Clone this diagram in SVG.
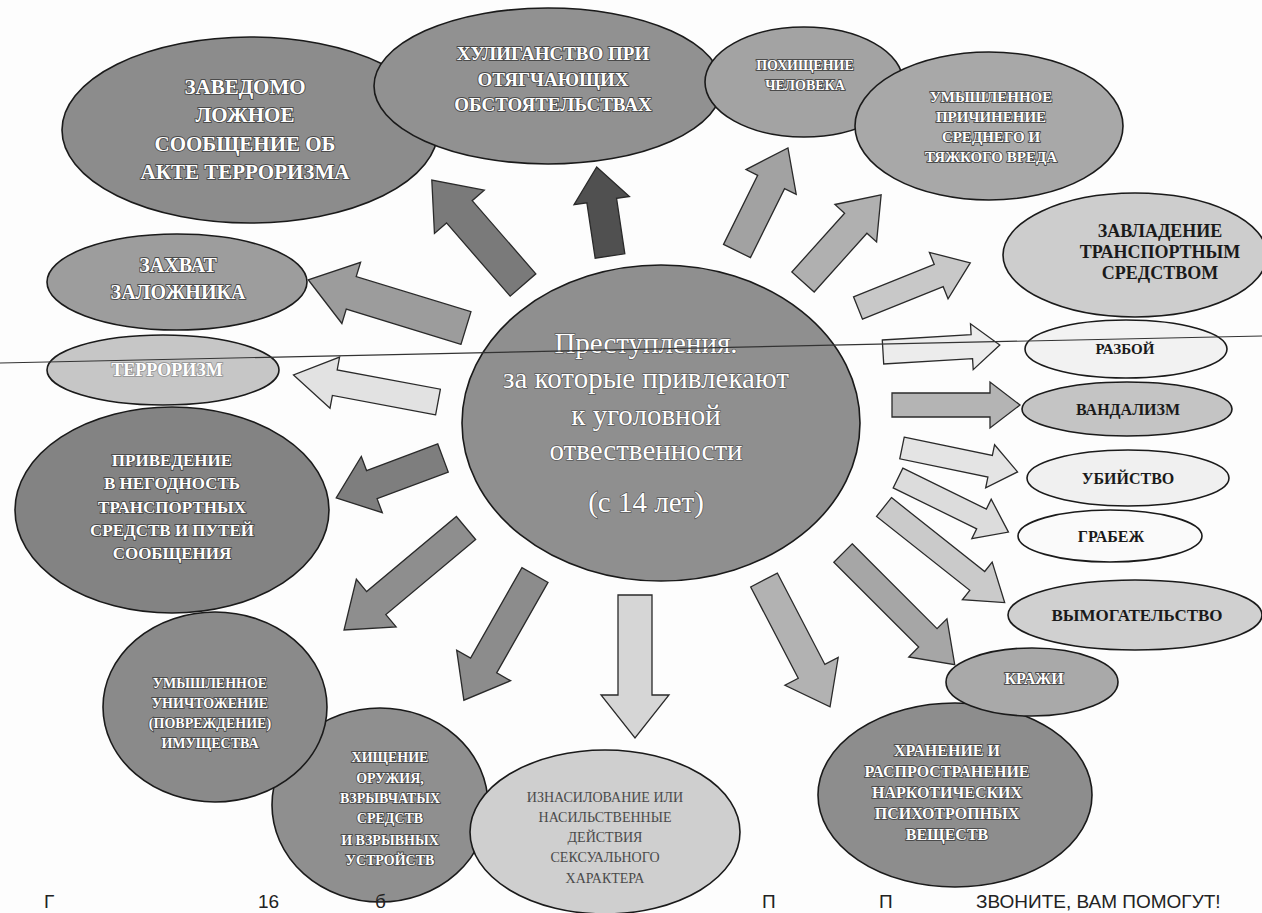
<svg xmlns="http://www.w3.org/2000/svg" width="1262" height="913" viewBox="0 0 1262 913">
<style>
.el{stroke:#1a1a1a;stroke-width:1.6}
.ar{stroke:#2a2a2a;stroke-width:1.3;stroke-linejoin:miter}
.wt{font-family:"Liberation Serif","Noto Serif",serif;font-weight:bold;fill:#fff;stroke:#4a4a4a;stroke-width:1.8;paint-order:stroke;text-anchor:middle}
.dt{font-family:"Liberation Serif",serif;font-weight:bold;fill:#1a1a1a;text-anchor:middle}
.gt{font-family:"Liberation Serif",serif;fill:#4a4a4a;text-anchor:middle}
.ct{font-family:"Liberation Serif",serif;fill:#fff;stroke:#5a5a5a;stroke-width:1.4;paint-order:stroke;text-anchor:middle;font-size:29px}
.bt{font-family:"Liberation Sans",Arial,sans-serif;font-size:19px;fill:#222}
</style>
<rect width="1262" height="913" fill="#fdfdfd"/>
<g id="connectors">
<polygon class="ar" fill="#7a7a7a" transform="translate(523,285) rotate(229)" points="0,-17 97,-17 97,-33 139,0 97,33 97,17 0,17"/>
<polygon class="ar" fill="#505050" transform="translate(610,256) rotate(261.5)" points="0,-15 56,-15 56,-28 90,0 56,28 56,15 0,15"/>
<polygon class="ar" fill="#a2a2a2" transform="translate(737,251) rotate(-63.7)" points="0,-15 77,-15 77,-28 115,0 77,28 77,15 0,15"/>
<polygon class="ar" fill="#b0b0b0" transform="translate(803,282) rotate(-48.1)" points="0,-15 79,-15 79,-28 117,0 79,28 79,15 0,15"/>
<polygon class="ar" fill="#c8c8c8" transform="translate(858,308) rotate(-21.9)" points="0,-12 87,-12 87,-25 121,0 87,25 87,12 0,12"/>
<polygon class="ar" fill="#ececec" transform="translate(883,352) rotate(-3.4)" points="0,-12 89,-12 89,-23 117,0 89,23 89,12 0,12"/>
<polygon class="ar" fill="#b4b4b4" transform="translate(892,405)" points="0,-12 98,-12 98,-23 128,0 98,23 98,12 0,12"/>
<polygon class="ar" fill="#e4e4e4" transform="translate(902,448) rotate(11.7)" points="0,-11 90,-11 90,-22 118,0 90,22 90,11 0,11"/>
<polygon class="ar" fill="#dcdcdc" transform="translate(898,478) rotate(26.1)" points="0,-11 93,-11 93,-22 123,0 93,22 93,11 0,11"/>
<polygon class="ar" fill="#cacaca" transform="translate(884,507) rotate(38.4)" points="0,-12 119,-12 119,-24 154,0 119,24 119,12 0,12"/>
<polygon class="ar" fill="#a6a6a6" transform="translate(843,553) rotate(45)" points="0,-13 120,-13 120,-27 158,0 120,27 120,13 0,13"/>
<polygon class="ar" fill="#b2b2b2" transform="translate(764,580) rotate(62.5)" points="0,-15 103,-15 103,-30 143,0 103,30 103,15 0,15"/>
<polygon class="ar" fill="#d6d6d6" transform="translate(635,595) rotate(90)" points="0,-17 100,-17 100,-34 143,0 100,34 100,17 0,17"/>
<polygon class="ar" fill="#8c8c8c" transform="translate(535,575) rotate(119.6)" points="0,-15 104,-15 104,-31 144,0 104,31 104,15 0,15"/>
<polygon class="ar" fill="#8e8e8e" transform="translate(466,528) rotate(140.1)" points="0,-15 117,-15 117,-31 159,0 117,31 117,15 0,15"/>
<polygon class="ar" fill="#7e7e7e" transform="translate(443,458) rotate(159.5)" points="0,-15 76,-15 76,-30 114,0 76,30 76,15 0,15"/>
<polygon class="ar" fill="#e2e2e2" transform="translate(438,402) rotate(190.6)" points="0,-13 105,-13 105,-26 147,0 105,26 105,13 0,13"/>
<polygon class="ar" fill="#9c9c9c" transform="translate(466,328) rotate(197)" points="0,-17 120,-17 120,-32 165,0 120,32 120,17 0,17"/>
</g>
<g id="n-zavedomo"><ellipse class="el" cx="250" cy="130" rx="188" ry="93" fill="#8c8c8c"/>
<text class="wt" font-size="21"><tspan x="245" y="94">ЗАВЕДОМО</tspan><tspan x="245" y="122">ЛОЖНОЕ</tspan><tspan x="245" y="151">СООБЩЕНИЕ ОБ</tspan><tspan x="245" y="179">АКТЕ ТЕРРОРИЗМА</tspan></text></g>
<g id="n-huligan"><ellipse class="el" cx="548" cy="86" rx="174" ry="78" fill="#919191"/>
<text class="wt" font-size="19"><tspan x="553" y="60">ХУЛИГАНСТВО ПРИ</tspan><tspan x="553" y="86">ОТЯГЧАЮЩИХ</tspan><tspan x="553" y="111">ОБСТОЯТЕЛЬСТВАХ</tspan></text></g>
<g id="n-pohish"><ellipse class="el" cx="804" cy="82" rx="99" ry="55" fill="#a3a3a3"/>
<text class="wt" font-size="14"><tspan x="805" y="70">ПОХИЩЕНИЕ</tspan><tspan x="805" y="90">ЧЕЛОВЕКА</tspan></text></g>
<g id="n-prichin"><ellipse class="el" cx="989" cy="126" rx="134" ry="74" fill="#a8a8a8"/>
<text class="wt" font-size="15"><tspan x="991" y="102">УМЫШЛЕННОЕ</tspan><tspan x="991" y="122">ПРИЧИНЕНИЕ</tspan><tspan x="991" y="142">СРЕДНЕГО И</tspan><tspan x="991" y="162">ТЯЖКОГО ВРЕДА</tspan></text></g>
<g id="n-zavlad"><ellipse class="el" cx="1135" cy="255" rx="132" ry="62" fill="#cdcdcd"/>
<text class="dt" font-size="18"><tspan x="1160" y="237">ЗАВЛАДЕНИЕ</tspan><tspan x="1160" y="258">ТРАНСПОРТНЫМ</tspan><tspan x="1160" y="279">СРЕДСТВОМ</tspan></text></g>
<g id="n-razboy"><ellipse class="el" cx="1126" cy="349" rx="101" ry="29" fill="#f2f2f2"/>
<text class="dt" font-size="15" x="1125" y="354">РАЗБОЙ</text></g>
<g id="n-vandal"><ellipse class="el" cx="1127" cy="409" rx="105" ry="27" fill="#c4c4c4"/>
<text class="dt" font-size="16" x="1128" y="415">ВАНДАЛИЗМ</text></g>
<g id="n-ubiystvo"><ellipse class="el" cx="1128" cy="478" rx="101" ry="28" fill="#f0f0f0"/>
<text class="dt" font-size="16" x="1128" y="484">УБИЙСТВО</text></g>
<g id="n-grabezh"><ellipse class="el" cx="1110" cy="536" rx="92" ry="26" fill="#fafafa"/>
<text class="dt" font-size="16" x="1111" y="542">ГРАБЕЖ</text></g>
<g id="n-vymog"><ellipse class="el" cx="1135" cy="615" rx="127" ry="35" fill="#d0d0d0"/>
<text class="dt" font-size="17" x="1137" y="621">ВЫМОГАТЕЛЬСТВО</text></g>
<g id="n-hranenie"><ellipse class="el" cx="955" cy="795" rx="137" ry="92" fill="#8d8d8d"/>
<text class="wt" font-size="16"><tspan x="947" y="756">ХРАНЕНИЕ И</tspan><tspan x="947" y="777">РАСПРОСТРАНЕНИЕ</tspan><tspan x="947" y="798">НАРКОТИЧЕСКИХ</tspan><tspan x="947" y="819">ПСИХОТРОПНЫХ</tspan><tspan x="947" y="840">ВЕЩЕСТВ</tspan></text></g>
<g id="n-krazhi"><ellipse class="el" cx="1032" cy="682" rx="86" ry="34" fill="#a9a9a9"/>
<text class="wt" font-size="16" x="1034" y="684">КРАЖИ</text></g>
<g id="n-hishenie"><ellipse class="el" cx="380" cy="805" rx="108" ry="97" fill="#8f8f8f"/>
<text class="wt" font-size="14"><tspan x="390" y="762">ХИЩЕНИЕ</tspan><tspan x="390" y="783">ОРУЖИЯ,</tspan><tspan x="390" y="803">ВЗРЫВЧАТЫХ</tspan><tspan x="390" y="823">СРЕДСТВ</tspan><tspan x="390" y="845">И ВЗРЫВНЫХ</tspan><tspan x="390" y="865">УСТРОЙСТВ</tspan></text></g>
<g id="n-iznas"><ellipse class="el" cx="605" cy="832" rx="135" ry="82" fill="#cfcfcf"/>
<text class="gt" font-size="14"><tspan x="605" y="802">ИЗНАСИЛОВАНИЕ ИЛИ</tspan><tspan x="605" y="822">НАСИЛЬСТВЕННЫЕ</tspan><tspan x="605" y="842">ДЕЙСТВИЯ</tspan><tspan x="605" y="862">СЕКСУАЛЬНОГО</tspan><tspan x="605" y="883">ХАРАКТЕРА</tspan></text></g>
<g id="n-unichtozh"><ellipse class="el" cx="215" cy="707" rx="112" ry="95" fill="#8a8a8a"/>
<text class="wt" font-size="14"><tspan x="210" y="688">УМЫШЛЕННОЕ</tspan><tspan x="210" y="708">УНИЧТОЖЕНИЕ</tspan><tspan x="210" y="728">(ПОВРЕЖДЕНИЕ)</tspan><tspan x="210" y="748">ИМУЩЕСТВА</tspan></text></g>
<g id="n-privedenie"><ellipse class="el" cx="172" cy="510" rx="157" ry="103" fill="#838383"/>
<text class="wt" font-size="17"><tspan x="172" y="466">ПРИВЕДЕНИЕ</tspan><tspan x="172" y="489">В НЕГОДНОСТЬ</tspan><tspan x="172" y="513">ТРАНСПОРТНЫХ</tspan><tspan x="172" y="536">СРЕДСТВ И ПУТЕЙ</tspan><tspan x="172" y="559">СООБЩЕНИЯ</tspan></text></g>
<g id="n-terror"><ellipse class="el" cx="163" cy="370" rx="116" ry="35" fill="#c6c6c6"/>
<text class="wt" font-size="18" style="stroke:#9a9a9a" x="167" y="376">ТЕРРОРИЗМ</text></g>
<g id="n-zahvat"><ellipse class="el" cx="177" cy="282" rx="130" ry="48" fill="#9d9d9d"/>
<text class="wt" font-size="20"><tspan x="178" y="272">ЗАХВАТ</tspan><tspan x="178" y="299">ЗАЛОЖНИКА</tspan></text></g>
<g id="n-center"><ellipse class="el" cx="661" cy="423" rx="199" ry="158" fill="#8f8f8f"/>
<text class="ct"><tspan x="646" y="353">Преступления.</tspan><tspan x="646" y="388">за которые привлекают</tspan><tspan x="646" y="425">к уголовной</tspan><tspan x="646" y="460">отвественности</tspan><tspan x="646" y="512">(с 14 лет)</tspan></text></g>
<line x1="0" y1="363" x2="1262" y2="336" stroke="#333" stroke-width="1.2"/>
<g id="footer">
<text class="bt" x="44" y="908">Г</text>
<text class="bt" x="258" y="908">16</text>
<text class="bt" x="375" y="908">б</text>
<text class="bt" x="762" y="908">П</text>
<text class="bt" x="879" y="908">П</text>
<text class="bt" x="976" y="908">ЗВОНИТЕ, ВАМ ПОМОГУТ!</text>
</g>
</svg>
